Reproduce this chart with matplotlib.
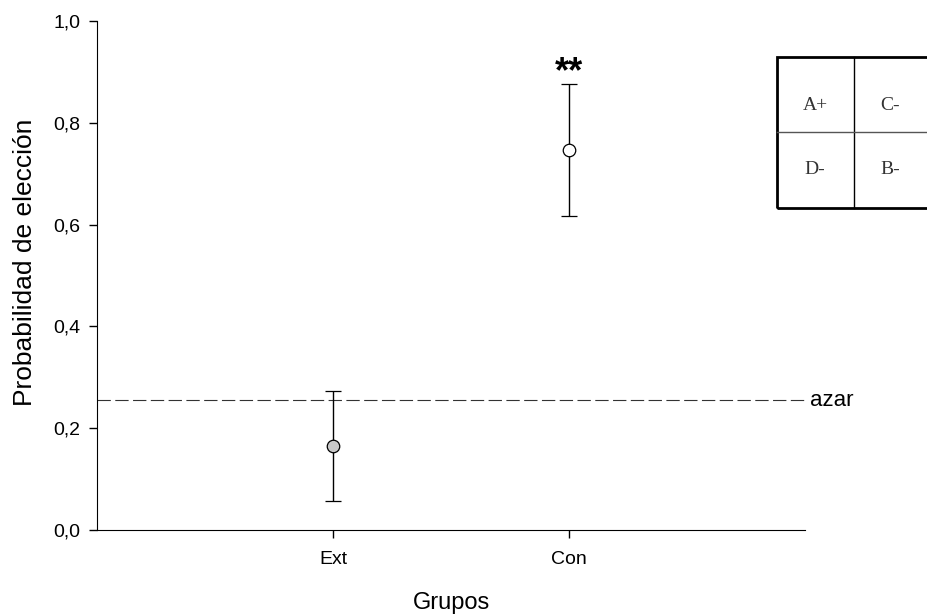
import matplotlib
matplotlib.use("Agg")
from matplotlib import pyplot as plt
from matplotlib.patches import Rectangle
from matplotlib.ticker import FuncFormatter

grupos = ["Ext", "Con"]
media = [0.165, 0.747]
error = [0.109, 0.13]
relleno = ["#c8c8c8", "white"]
azar = 0.255
celdas = ["A+", "C-", "D-", "B-"]

plt.rcParams['font.family'] = ['Liberation Sans', 'DejaVu Sans']

fig = plt.figure(figsize=(9.27, 6.15), dpi=100)
ax = fig.add_axes([97 / 927, 85 / 615, 708 / 927, 509 / 615])

xs = [1, 2]
for x, m, e, c in zip(xs, media, error, relleno):
    ax.errorbar(x, m, yerr=e, fmt='o', color='black', mfc=c, mec='black',
                ms=9, mew=0.9, elinewidth=1, capsize=5.5, capthick=1, zorder=3)

ax.plot([0, 3.01], [azar, azar], ls=(0, (12, 4)), color='#333333', lw=0.8,
        clip_on=False, zorder=2)
ax.text(3.02, azar, "azar", fontsize=16, va='center', ha='left')
# asteriscos de significación sobre el grupo Con
ax.text(2, media[1] + error[1] + 0.003, "**", fontsize=26, fontweight='bold',
        ha='center', va='baseline')

ax.set_xlim(0, 3)
ax.set_ylim(0, 1.0)
ax.set_xticks(xs)
ax.set_xticklabels(grupos)
ax.set_yticks([0, 0.2, 0.4, 0.6, 0.8, 1.0])
ax.yaxis.set_major_formatter(FuncFormatter(lambda v, p: f"{v:.1f}".replace('.', ',')))
ax.tick_params(direction='out', length=6, width=1, labelsize=14)
ax.tick_params(axis='y', pad=6)
ax.tick_params(axis='x', pad=9)
for s in ['top', 'right']:
    ax.spines[s].set_visible(False)
ax.set_ylabel("Probabilidad de elección", fontsize=19)
ax.set_xlabel("Grupos", fontsize=17)
ax.yaxis.set_label_coords(-0.085, 0.525)
ax.xaxis.set_label_coords(0.5, -0.122)

# tabla de estímulos arriba a la derecha
x0, y0, w, h = 777 / 927, 1 - 208 / 615, 152 / 927, 151 / 615
fig.patches.append(Rectangle((x0, y0), w, h, transform=fig.transFigure,
                             fill=False, ec='black', lw=2))
xm = 854 / 927
ym = 1 - 132 / 615
fig.add_artist(plt.Line2D([xm, xm], [y0, y0 + h], color='black', lw=1))
fig.add_artist(plt.Line2D([x0, x0 + w], [ym, ym], color='#555555', lw=1))
pos = [(815, 106), (890, 106), (815, 170), (890, 170)]
for t, (px, py) in zip(celdas, pos):
    fig.text(px / 927, 1 - py / 615, t, fontsize=14, family='Liberation Serif',
             color='#333333', ha='center', va='center')

fig.savefig("out.png", dpi=100)
